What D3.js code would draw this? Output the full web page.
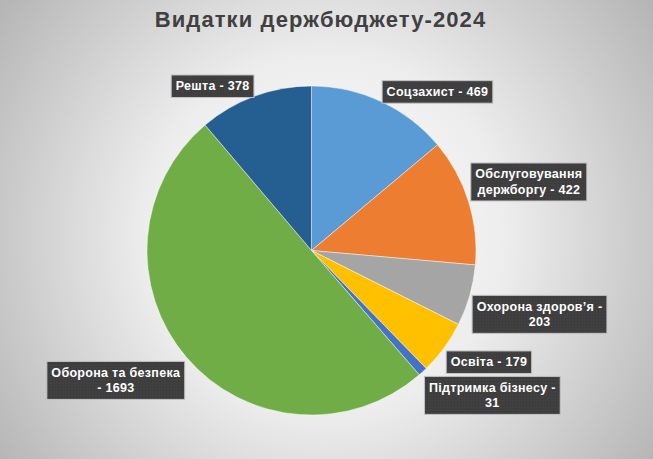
<!doctype html>
<html lang="uk">
<head>
  <meta charset="UTF-8">
  <title>Видатки держбюджету-2024</title>
  <script src="https://cdn.jsdelivr.net/npm/d3@7"></script>
  <style>
    body { margin: 0; }
    text { font-family: "Liberation Sans", Arial, sans-serif; }
  </style>
</head>
<body>
<svg width="653" height="459" id="pie"></svg>
<script>
  var categories = ['Соцзахист', 'Обслуговування держборгу', 'Охорона здоров’я', 'Освіта',
    'Підтримка бізнесу', 'Оборона та безпека', 'Решта'];
  var values = [469, 422, 203, 179, 31, 1693, 378];
  var colors = ['#5b9bd5', '#ed7d31', '#a5a5a5', '#ffc000', '#4472c4', '#70ad47', '#255e91'];
  var title = 'Видатки держбюджету-2024';

  (function () {
    var svg = d3.select('#pie'),
      width = +svg.attr('width'),
      height = +svg.attr('height'),
      cx = 311.5, cy = 250.5, radius = 164.5;

    var defs = svg.append('defs');
    var grad = defs.append('radialGradient').attr('id', 'bg')
      .attr('gradientUnits', 'userSpaceOnUse')
      .attr('cx', 326).attr('cy', 235).attr('r', 400);
    grad.append('stop').attr('offset', '0%').attr('stop-color', '#ffffff');
    grad.append('stop').attr('offset', '45%').attr('stop-color', '#ededed');
    grad.append('stop').attr('offset', '100%').attr('stop-color', '#b5b5b5');

    var pat = defs.append('pattern').attr('id', 'dots')
      .attr('patternUnits', 'userSpaceOnUse').attr('width', 3).attr('height', 3);
    pat.append('rect').attr('width', 3).attr('height', 3).attr('fill', '#3d3d3d');
    pat.append('rect').attr('width', 1).attr('height', 1).attr('fill', '#4e4e4e');

    svg.append('rect').attr('width', width).attr('height', height).attr('fill', 'url(#bg)');

    svg.append('text')
      .attr('x', width / 2 - 6)
      .attr('y', 27)
      .attr('text-anchor', 'middle')
      .attr('font-size', '22px')
      .attr('font-weight', 'bold')
      .attr('letter-spacing', '1.1px')
      .attr('fill', '#404040')
      .text(title);

    var data = categories.map(function (c, i) {
      return {name: c, value: values[i], color: colors[i]};
    });

    var pie = d3.pie().sort(null).value(function (d) { return d.value; });
    var arc = d3.arc().innerRadius(0).outerRadius(radius);
    var arcs = pie(data);

    var g = svg.append('g').attr('transform', 'translate(' + cx + ',' + cy + ')');

    g.selectAll('path').data(arcs).enter().append('path')
      .attr('d', arc)
      .attr('fill', function (d) { return d.data.color; })
      .attr('stroke', '#ffffff')
      .attr('stroke-opacity', 0.6)
      .attr('stroke-width', 0.75);

    // data labels, placed outside the slice end like Excel's best fit
    var maxW = 136, lineH = 15.5, padX = 4.5, padY = 3, fs = '12.5px', ls = '0.3px';
    arcs.forEach(function (d) {
      var a = (d.startAngle + d.endAngle) / 2,
        s = Math.sin(a), c = Math.cos(a),
        right = s >= 0,
        lx = 167 * s,
        ly = -175 * c;

      var lg = g.append('g');
      var words = (d.data.name + ' - ' + d.data.value).split(' ');
      var lines = [], cur = '';
      var probe = lg.append('text').attr('font-size', fs).attr('font-weight', 'bold')
        .attr('letter-spacing', ls);
      words.forEach(function (w) {
        var t = cur ? cur + ' ' + w : w;
        probe.text(t);
        if (cur && probe.node().getComputedTextLength() > maxW) {
          lines.push(cur);
          cur = w;
        } else {
          cur = t;
        }
      });
      lines.push(cur);
      var wmax = 0;
      lines.forEach(function (l) {
        probe.text(l);
        wmax = Math.max(wmax, probe.node().getComputedTextLength());
      });
      probe.remove();

      var bw = wmax + padX * 2,
        bh = lines.length * lineH + padY * 2 + 1,
        bx = right ? lx : lx - bw,
        shift = Math.abs(c) > 0.8 ? 0 : (c < 0 ? 1 : -1) * (bh / 2 - 3),
        by = ly + shift - bh / 2;

      lg.append('rect')
        .attr('x', bx).attr('y', by)
        .attr('width', bw).attr('height', bh)
        .attr('fill', 'url(#dots)')
        .attr('stroke', '#c4c4c4')
        .attr('stroke-width', 1);

      lg.selectAll('text.lbl').data(lines).enter().append('text')
        .attr('class', 'lbl')
        .attr('x', bx + bw / 2)
        .attr('y', function (l, i) { return by + padY + 12.5 + i * lineH; })
        .attr('text-anchor', 'middle')
        .attr('font-size', fs)
        .attr('font-weight', 'bold')
        .attr('letter-spacing', ls)
        .attr('fill', '#ffffff')
        .text(function (l) { return l; });
    });
  })();
</script>
</body>
</html>
